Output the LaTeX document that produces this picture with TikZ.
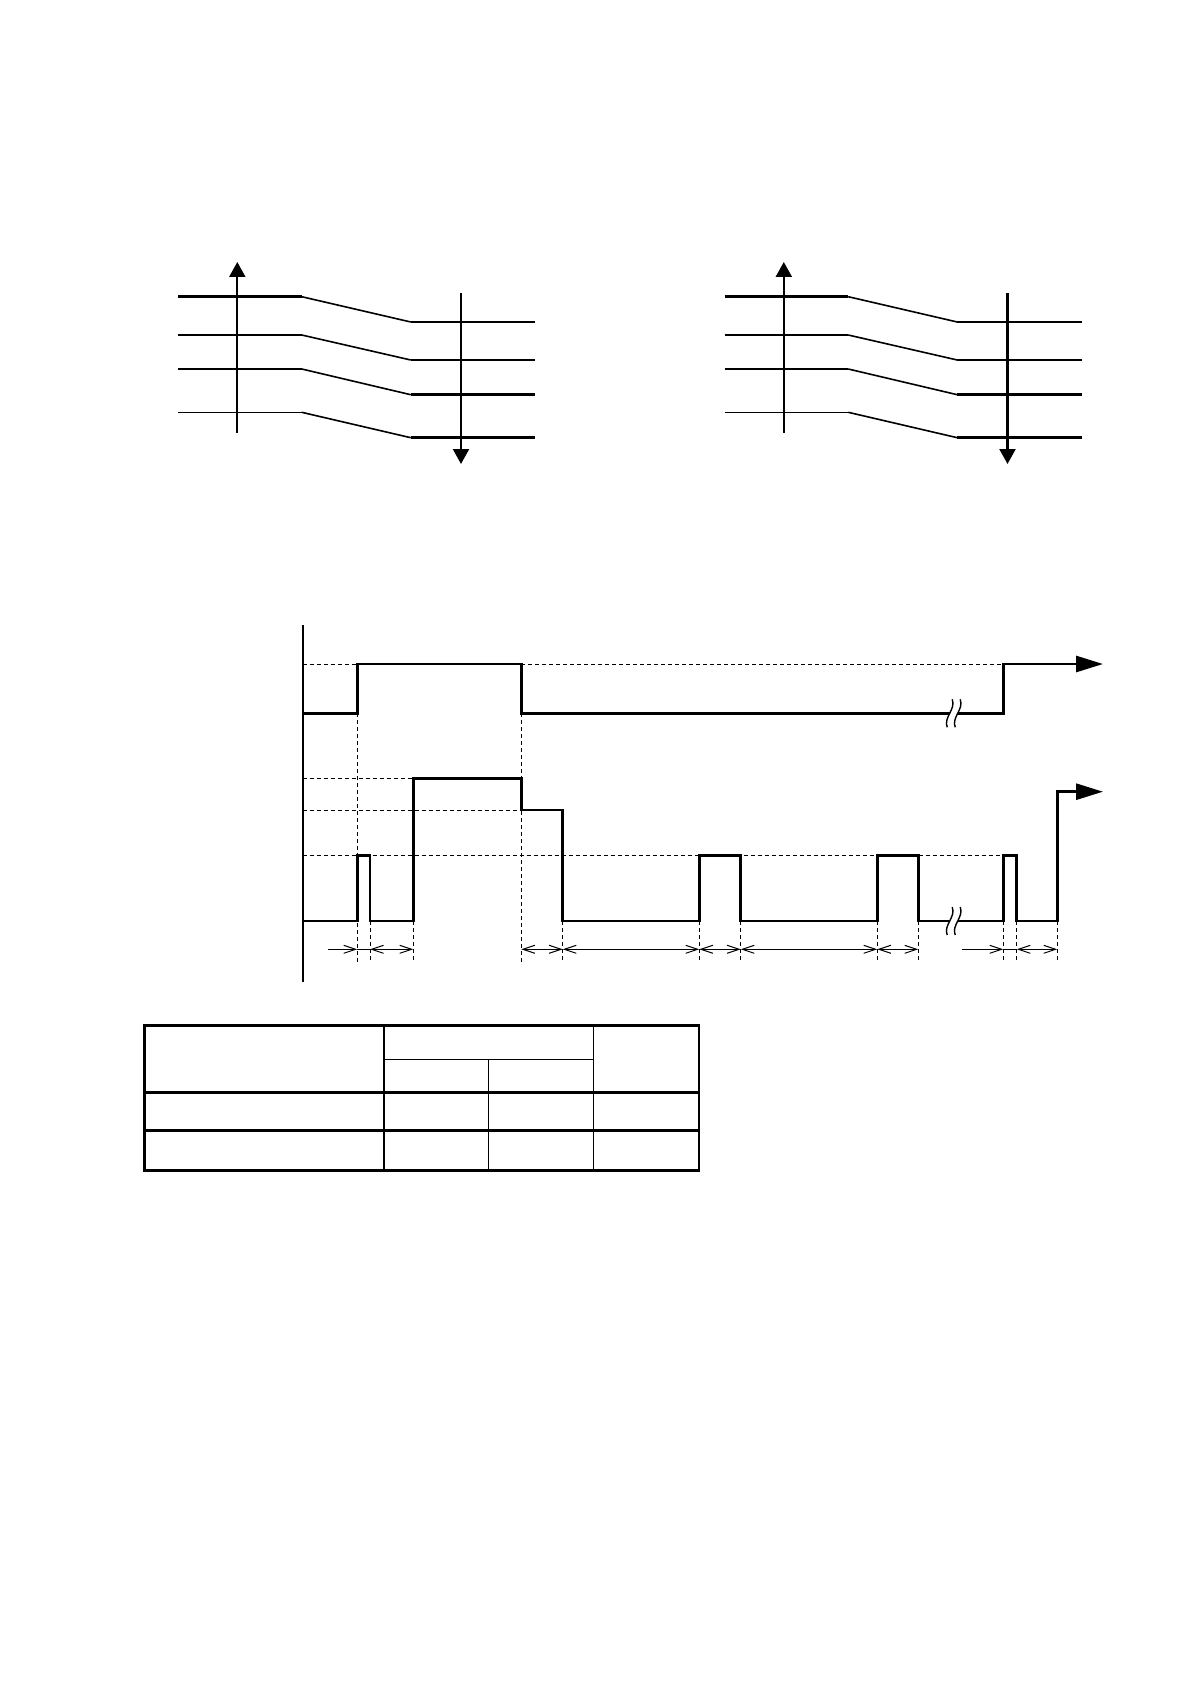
\documentclass[tikz,border=0pt]{standalone}
\usetikzlibrary{arrows.meta}
\tikzset{dbarb/.tip={Straight Barb[length=6pt,width=4pt,line width=0.5pt]}}
\begin{document}
\begin{tikzpicture}[x=0.5pt,y=-0.5pt,
  thk/.style={line width=1.2pt},
  med/.style={line width=0.8pt},
  thn/.style={line width=0.6pt},
  axis/.style={line width=1.1pt},
  dsh/.style={line width=0.5pt,dash pattern=on 2pt off 1.5pt},
  sig/.style={line width=1.4pt,line join=miter},
  dim/.style={line width=0.5pt},
  brk/.style={line width=0.7pt},
  tbo/.style={line width=1.3pt},
  tbi/.style={line width=0.7pt}]
\useasboundingbox (0,0) rectangle (1191,1684);
% ---------- two level diagrams ----------
\foreach \ox in {0,546.5}{
  \begin{scope}[xshift=\ox*0.5pt]
    % left portions
    \draw[thk] (178,296.7) -- (301.7,296.7);
    \draw[thk] (178,335) -- (301.7,335);
    \draw[thn] (178,369) -- (301.7,369);
    \draw[thn] (178,412.3) -- (301.7,412.3);
    % slanted
    \draw[med] (301.7,296.7) -- (410.7,322);
    \draw[med] (301.7,335) -- (410.7,360);
    \draw[med] (301.7,369) -- (410.7,394.7);
    \draw[med] (301.7,412.3) -- (410.7,437.7);
    % right portions
    \draw[thn] (410.7,322) -- (535,322);
    \draw[thn] (410.7,360) -- (535,360);
    \draw[thk] (410.7,394.7) -- (535,394.7);
    \draw[thk] (410.7,437.7) -- (535,437.7);
    % axes
    \draw[axis,-{Triangle[length=7.5pt,width=8pt]}] (237.3,433) -- (237.3,262);
    \draw[axis,-{Triangle[length=7.5pt,width=8pt]}] (461,293.3) -- (461,464);
  \end{scope}
}
% ---------- timing diagram ----------
% dashed guides
\draw[dsh] (302.7,664) -- (357.3,664);
\draw[dsh] (521.3,664) -- (1003.3,664);
\draw[dsh] (302.7,778.3) -- (413.3,778.3);
\draw[dsh] (302.7,810) -- (521.3,810);
\draw[dsh] (302.7,855.3) -- (1003.3,855.3);
\draw[dsh] (357.3,713.3) -- (357.3,963);
\draw[dsh] (521.3,713.3) -- (521.3,965);
\foreach \xx in {370,413.3,562.7,699.3,740.7,877.3,918.3,1003.3,1016.7,1057.3}
  \draw[dsh] (\xx,921) -- (\xx,963);
% vertical axis
\draw[axis] (302.7,625) -- (302.7,981.7);
% signals
\draw[sig,-{Triangle[length=13.5pt,width=8pt]}]
  (302.7,713.3) -- (357.3,713.3) -- (357.3,664) -- (521.3,664) -- (521.3,713.3)
  -- (1003.3,713.3) -- (1003.3,664) -- (1103,664);
\draw[sig,-{Triangle[length=13.5pt,width=8pt]}]
  (302.7,921) -- (357.3,921) -- (357.3,855.3) -- (370,855.3) -- (370,921)
  -- (413.3,921) -- (413.3,778.3) -- (521.3,778.3) -- (521.3,810) -- (562.7,810)
  -- (562.7,921) -- (699.3,921) -- (699.3,855.3) -- (740.7,855.3) -- (740.7,921)
  -- (877.3,921) -- (877.3,855.3) -- (918.3,855.3) -- (918.3,921) -- (1003.3,921)
  -- (1003.3,855.3) -- (1016.7,855.3) -- (1016.7,921) -- (1057.3,921)
  -- (1057.3,791.7) -- (1103,791.7);
% break marks
\foreach \cy in {713.3,921}{
  \fill[white] (947.2,\cy+14) .. controls (943.2,\cy+4) and (956.2,\cy-4) .. (952.2,\cy-14)
     -- (960.2,\cy-14) .. controls (964.2,\cy-4) and (951.2,\cy+4) .. (955.2,\cy+14) -- cycle;
  \draw[brk] (947.2,\cy+14) .. controls (943.2,\cy+4) and (956.2,\cy-4) .. (952.2,\cy-14);
  \draw[brk] (955.2,\cy+14) .. controls (951.2,\cy+4) and (964.2,\cy-4) .. (960.2,\cy-14);
}
% dimension lines
\draw[dim,-{dbarb}] (327.7,949.3) -- (357.3,949.3);
\draw[dim] (357.3,949.3) -- (370,949.3);
\draw[dim,{dbarb}-{dbarb}] (370,949.3) -- (413.3,949.3);
\draw[dim,{dbarb}-{dbarb}] (521.3,949.3) -- (562.7,949.3);
\draw[dim,{dbarb}-{dbarb}] (562.7,949.3) -- (699.3,949.3);
\draw[dim,{dbarb}-{dbarb}] (699.3,949.3) -- (740.7,949.3);
\draw[dim,{dbarb}-{dbarb}] (740.7,949.3) -- (877.3,949.3);
\draw[dim,{dbarb}-{dbarb}] (877.3,949.3) -- (918.3,949.3);
\draw[dim,-{dbarb}] (961.7,949.3) -- (1003.3,949.3);
\draw[dim] (1003.3,949.3) -- (1016.7,949.3);
\draw[dim,{dbarb}-{dbarb}] (1016.7,949.3) -- (1057.3,949.3);
% ---------- table ----------
\draw[tbi] (384,1059.3) -- (593.3,1059.3);
\draw[tbi] (488.3,1059.3) -- (488.3,1170.7);
\draw[tbi] (593.3,1025.7) -- (593.3,1170.7);
\draw[tbo] (144.5,1092.3) -- (699,1092.3);
\draw[tbo] (144.5,1130.7) -- (699,1130.7);
\draw[tbo] (384,1025.7) -- (384,1170.7);
\draw[tbo] (144.5,1025.7) rectangle (699,1170.7);
\end{tikzpicture}
\end{document}
